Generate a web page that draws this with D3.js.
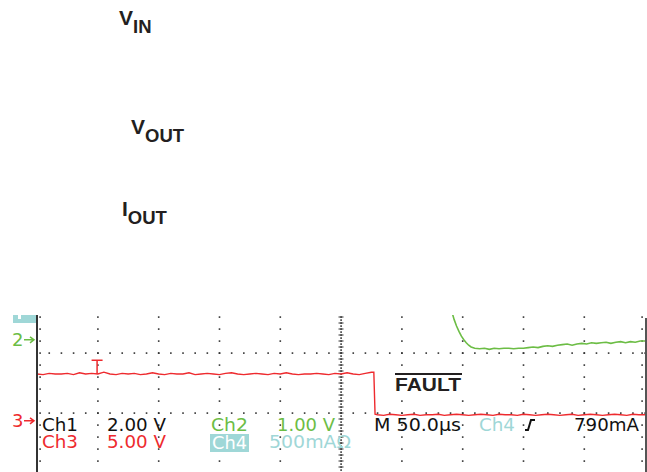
<!DOCTYPE html>
<html>
<head>
<meta charset="utf-8">
<script src="https://cdn.jsdelivr.net/npm/d3@7"></script>
<style>
  body { margin: 0; background: #fff; }
  svg { display: block; }
  .scope { font-family: "DejaVu Sans", sans-serif; font-size: 18px; }
  .label { font-family: "Liberation Sans", Arial, sans-serif; font-weight: bold; fill: #231f20; }
</style>
</head>
<body>
<svg width="647" height="472"></svg>
<script>
// scope capture: time in µs (50 µs/div), levels in screen divisions counted from the bottom row

// Ch3 (FAULT) trace
const ch3Time = [0,5,10,15,20,25,30,35,40,45,50,55,60,65,70,75,80,85,90,95,
  100,105,110,115,120,125,130,135,140,145,150,155,160,165,170,175,180,185,190,195,
  200,205,210,215,220,225,230,235,240,245,250,255,260,265,270,275,277,278,
  280,285,290,295,300,305,310,315,320,325,330,335,340,345,350,355,360,365,370,375,
  380,385,390,395,400,405,410,415,420,425,430,435,440,445,450,455,460,465,470,475,
  480,485,490,495,500];
const ch3Div = [1.65,1.64,1.66,1.65,1.65,1.66,1.64,1.67,1.65,1.66,1.65,1.68,1.65,1.64,1.66,1.65,1.66,1.64,1.65,1.67,
  1.65,1.64,1.66,1.65,1.65,1.67,1.64,1.65,1.66,1.65,1.64,1.66,1.67,1.65,1.64,1.65,1.66,1.65,1.64,1.66,
  1.65,1.67,1.65,1.64,1.65,1.65,1.66,1.65,1.64,1.66,1.65,1.67,1.65,1.64,1.66,1.68,1.68,0.98,
  0.97,0.96,0.98,0.97,0.96,0.97,0.98,0.96,0.97,0.97,0.98,0.96,0.97,0.98,0.97,0.96,0.97,0.98,0.97,0.96,
  0.98,0.97,0.97,0.96,0.98,0.97,0.96,0.97,0.98,0.97,0.96,0.97,0.98,0.96,0.97,0.98,0.97,0.96,0.97,0.98,
  0.97,0.96,0.98,0.97,0.97];

// Ch2 trace (only the settling tail is visible)
const ch2Time = [341,343,345,347,349,351,353,355,357,360,364,368,372,376,380,384,388,392,396,400,
  404,408,412,416,420,424,428,432,436,440,444,448,452,456,460,464,468,472,476,480,
  484,488,492,496,500];
const ch2Div = [2.70,2.56,2.45,2.36,2.28,2.22,2.17,2.13,2.10,2.08,2.07,2.08,2.06,2.08,2.07,2.08,2.08,2.07,2.08,2.08,
  2.09,2.10,2.09,2.11,2.12,2.11,2.13,2.14,2.15,2.13,2.15,2.16,2.15,2.17,2.16,2.17,2.18,2.16,2.18,2.19,
  2.17,2.19,2.18,2.20,2.20];

const gridTimes = [50,100,150,200,300,350,400,450];
const gridRows = [0,1,2];
const triggerTime = 49;
const triggerLevel = [1.65, 1.88];
const ch2Marker = 2.22;
const ch3Marker = 0.87;

const cRed = "#ee2a2e", cGreen = "#6cbd45", cCyan = "#9fd7d7", cInk = "#111";

const svg = d3.select("svg");

const x = d3.scaleLinear().domain([0, 500]).range([37, 645]);
const y = d3.scaleLinear().domain([0, 3]).range([473, 293]);

svg.append("defs").append("clipPath").attr("id", "screen")
  .append("rect").attr("x", 36).attr("y", 315).attr("width", 612).attr("height", 160);

const screen = svg.append("g").attr("clip-path", "url(#screen)");

// graticule dots
const dot = (g, px, py) => g.append("rect").attr("x", px - 0.7).attr("y", py - 0.7)
  .attr("width", 1.6).attr("height", 1.6).attr("fill", "#333");

const vSteps = d3.range(0, 2.7, 0.2);
gridTimes.forEach(t => vSteps.forEach(d => dot(screen, x(t), y(d))));
gridRows.forEach(r => d3.range(0, 501, 10).forEach(t => dot(screen, x(t), y(r))));
vSteps.forEach(d => dot(screen, x(0) + 3, y(d)));
vSteps.forEach(d => dot(screen, x(500) - 3, y(d)));

// centre line with minor ticks
d3.range(0, 2.7, 0.05).forEach(d => dot(screen, x(250), y(d)));
d3.range(0, 2.7, 0.1).forEach(d => screen.append("line")
  .attr("x1", x(250) - 2.5).attr("x2", x(250) + 2.5)
  .attr("y1", y(d)).attr("y2", y(d))
  .attr("stroke", "#333").attr("stroke-width", 1));

// frame edges
svg.append("line").attr("x1", x(0)).attr("x2", x(0)).attr("y1", 315).attr("y2", 472)
  .attr("stroke", "#333").attr("stroke-width", 2);
svg.append("line").attr("x1", 646).attr("x2", 646).attr("y1", 318).attr("y2", 472)
  .attr("stroke", "#555").attr("stroke-width", 2);

// traces
const line = d3.line().x(d => x(d[0])).y(d => y(d[1]));
screen.append("path").datum(d3.zip(ch3Time, ch3Div)).attr("d", line)
  .attr("fill", "none").attr("stroke", cRed).attr("stroke-width", 1.4);
screen.append("path").datum(d3.zip(ch2Time, ch2Div)).attr("d", line)
  .attr("fill", "none").attr("stroke", cGreen).attr("stroke-width", 1.6);

// trigger marker
screen.append("path")
  .attr("d", `M${x(triggerTime) - 5},${y(triggerLevel[1])}h11M${x(triggerTime) + 0.5},${y(triggerLevel[1])}V${y(triggerLevel[0])}`)
  .attr("stroke", cRed).attr("stroke-width", 1.5).attr("fill", "none");

// channel ground markers
const marker = (label, level, color) => {
  const py = y(level);
  svg.append("text").attr("class", "scope").attr("x", 12).attr("y", py + 6)
    .attr("font-size", 17).attr("fill", color).text(label);
  svg.append("path").attr("d", `M24,${py}H34M30,${py - 3}L34,${py}L30,${py + 3}`)
    .attr("stroke", color).attr("stroke-width", 1.5).attr("fill", "none");
};
marker("2", ch2Marker, cGreen);
marker("3", ch3Marker, cRed);

// Ch4 marker stub at the top-left
svg.append("rect").attr("x", 13).attr("y", 315).attr("width", 23).attr("height", 8).attr("fill", cCyan);
svg.append("rect").attr("x", 18).attr("y", 315).attr("width", 3).attr("height", 4).attr("fill", "#fff");

// readouts (widths taken from the capture)
const readout = (txt, px, py, color, w) => svg.append("text").attr("class", "scope")
  .attr("x", px).attr("y", py).attr("fill", color)
  .attr("textLength", w).attr("lengthAdjust", "spacingAndGlyphs").text(txt);
readout("Ch1", 42, 431, cInk, 36);
readout("2.00 V", 107, 431, cInk, 59);
readout("Ch3", 42, 448, cRed, 36);
readout("5.00 V", 107, 448, cRed, 59);
readout("Ch2", 211, 431, cGreen, 37);
readout("1.00 V", 277, 431, cGreen, 58);
svg.append("rect").attr("x", 210).attr("y", 434).attr("width", 39).attr("height", 18).attr("fill", cCyan);
readout("Ch4", 212, 449, "#fff", 35);
readout("500mAΩ", 269, 448, cCyan, 82);
readout("M 50.0µs", 374, 431, cInk, 87);
readout("Ch4", 479, 431, cCyan, 36);
svg.append("path").attr("d", "M525,430H528L531,420H535")
  .attr("stroke", cInk).attr("stroke-width", 2).attr("fill", "none");
readout("790mA", 574, 431, cInk, 65);

// FAULT annotation
svg.append("rect").attr("x", 390).attr("y", 368).attr("width", 76).attr("height", 28).attr("fill", "#fff");
svg.append("text").attr("class", "label").attr("x", 395).attr("y", 391)
  .attr("font-size", 19).attr("textLength", 66).attr("lengthAdjust", "spacingAndGlyphs").text("FAULT");
svg.append("line").attr("x1", 395).attr("x2", 462).attr("y1", 374).attr("y2", 374)
  .attr("stroke", "#231f20").attr("stroke-width", 1.8);

// signal names
const signal = (main, sub, px, py, subDy) => {
  const t = svg.append("text").attr("class", "label").attr("x", px).attr("y", py).attr("font-size", 21);
  t.append("tspan").text(main);
  t.append("tspan").attr("dy", subDy).attr("font-size", 18.5).text(sub);
};
signal("V", "IN", 119, 25, 8);
signal("V", "OUT", 131, 134, 8);
signal("I", "OUT", 122, 216, 8);
</script>
</body>
</html>
